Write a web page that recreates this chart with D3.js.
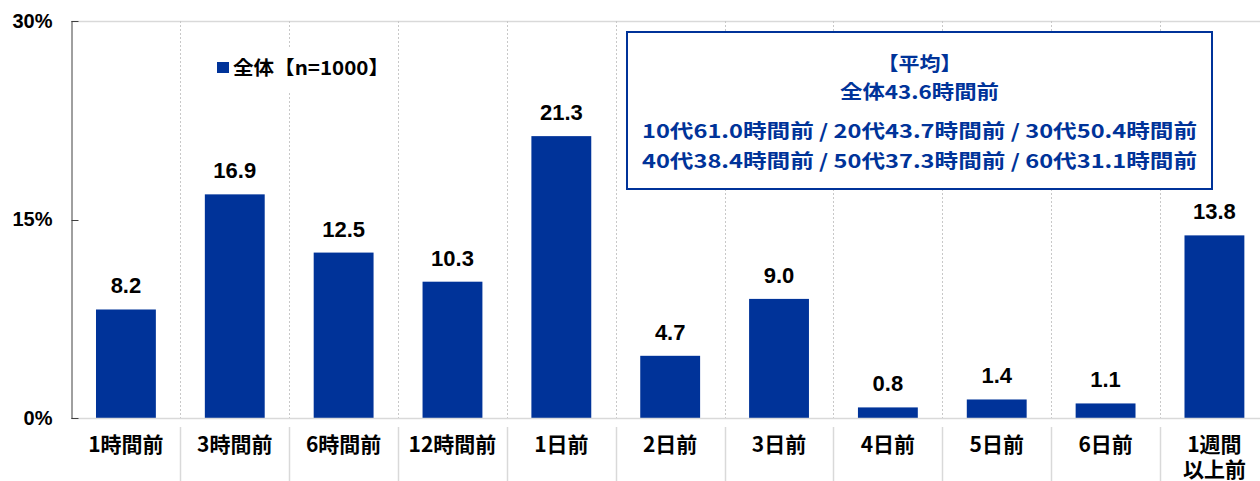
<!DOCTYPE html>
<html><head><meta charset="utf-8">
<script src="https://cdn.jsdelivr.net/npm/d3@7"></script>
<style>
html,body{margin:0;padding:0;background:#fff;}
svg{display:block;}
text{font-family:"Liberation Sans","Noto Sans CJK JP",sans-serif;}
</style></head><body>
<svg id="c" width="1260" height="481"></svg>
<script>
const categories = ["1時間前","3時間前","6時間前","12時間前","1日前","2日前","3日前","4日前","5日前","6日前","1週間\n以上前"];
const values = [8.2,16.9,12.5,10.3,21.3,4.7,9.0,0.8,1.4,1.1,13.8];
const yTicks = [0,15,30];
const seriesName = "全体【n=1000】";
const boxLines = ["【平均】","全体43.6時間前","10代61.0時間前 / 20代43.7時間前 / 30代50.4時間前","40代38.4時間前 / 50代37.3時間前 / 60代31.1時間前"];

const blue = "#003399";
const svg = d3.select("#c");
const L = 71.5, T = 21, B = 418, band = 108.85;
const R = L + band*categories.length;

const x = d3.scaleBand().domain(categories).range([L, R]).paddingInner(0.45).paddingOuter(0.225);
const y = d3.scaleLinear().domain([0,30]).range([B, T]);

// top border
svg.append("line").attr("x1",L).attr("x2",R).attr("y1",T+0.5).attr("y2",T+0.5).attr("stroke","#d9d9d9").attr("stroke-width",1.5);

// separators
for (let i=1;i<categories.length;i++){
  const sx = Math.round(L + band*i)+0.5;
  svg.append("line").attr("x1",sx).attr("x2",sx).attr("y1",T).attr("y2",B).attr("stroke","#c8c8c8").attr("stroke-dasharray","2,2").attr("stroke-width",1);
  svg.append("line").attr("x1",sx).attr("x2",sx).attr("y1",B+9).attr("y2",481).attr("stroke","#d9d9d9").attr("stroke-width",1.5);
}

// bars
svg.selectAll("rect.bar").data(values).join("rect").attr("class","bar")
  .attr("x",(d,i)=>x(categories[i])).attr("width",x.bandwidth())
  .attr("y",d=>y(d)).attr("height",d=>B-y(d)).attr("fill",blue);

// bottom axis line
svg.append("line").attr("x1",L).attr("x2",R).attr("y1",B+0.5).attr("y2",B+0.5).attr("stroke","#d9d9d9").attr("stroke-width",1.5);

// y axis
const yAxis = d3.axisLeft(y).tickValues(yTicks).tickFormat(d=>d+"%").tickSize(0).tickPadding(19);
const ga = svg.append("g").attr("transform",`translate(${L},0)`).call(yAxis);
ga.select(".domain").remove();
ga.selectAll(".tick line").remove();
ga.selectAll(".tick text").attr("font-size",20).attr("font-weight","bold").attr("fill","#000")
  .style("font-family","'Liberation Sans',sans-serif");
svg.append("line").attr("x1",L+0.5).attr("x2",L+0.5).attr("y1",T).attr("y2",B+1).attr("stroke","#404040");
yTicks.forEach(t=>{
  svg.append("line").attr("x1",L).attr("x2",L+7).attr("y1",Math.round(y(t))+0.5).attr("y2",Math.round(y(t))+0.5).attr("stroke","#404040");
});

// value labels
svg.selectAll("text.val").data(values).join("text").attr("class","val")
  .attr("x",(d,i)=>x(categories[i])+x.bandwidth()/2).attr("y",d=>y(d)-16)
  .attr("text-anchor","middle").attr("font-size",22).attr("font-weight","bold").attr("fill","#000")
  .text(d=>d.toFixed(1));

// category labels
categories.forEach((c,i)=>{
  const lines = c.split("\n");
  const cx = x(c)+x.bandwidth()/2;
  const t = svg.append("text").attr("x",cx).attr("y",452)
    .attr("text-anchor","middle").attr("font-size",21).attr("font-weight","bold").attr("fill","#000")
    .style("font-family","'Noto Sans CJK JP',sans-serif");
  lines.forEach((ln,j)=>t.append("tspan").attr("x",cx).attr("dy",j===0?0:25).text(ln));
});

// legend
const lg = svg.append("g");
lg.append("rect").attr("x",200).attr("y",47).attr("width",195).attr("height",45).attr("fill","#fff");
lg.append("rect").attr("x",217).attr("y",62).attr("width",12).attr("height",11).attr("fill",blue);
lg.append("text").attr("x",233).attr("y",75).attr("font-size",19).attr("font-weight","bold").attr("fill","#000")
  .style("font-family","'Noto Sans CJK JP',sans-serif")
  .attr("textLength",156).attr("lengthAdjust","spacingAndGlyphs").text(seriesName);

// average box
const bx = svg.append("g");
bx.append("rect").attr("x",627).attr("y",32).attr("width",585).attr("height",157).attr("fill","#fff").attr("stroke",blue).attr("stroke-width",2);
const ys = [70.5,99,138,168];
const ws = [84,159,555,555];
boxLines.forEach((s,i)=>{
  bx.append("text").attr("x",919.5).attr("y",ys[i]).attr("text-anchor","middle").attr("font-size",19).attr("font-weight","bold").attr("fill",blue)
    .style("font-family","'Noto Sans CJK JP',sans-serif")
    .attr("textLength",ws[i]).attr("lengthAdjust","spacingAndGlyphs").text(s);
});
</script>
</body></html>
